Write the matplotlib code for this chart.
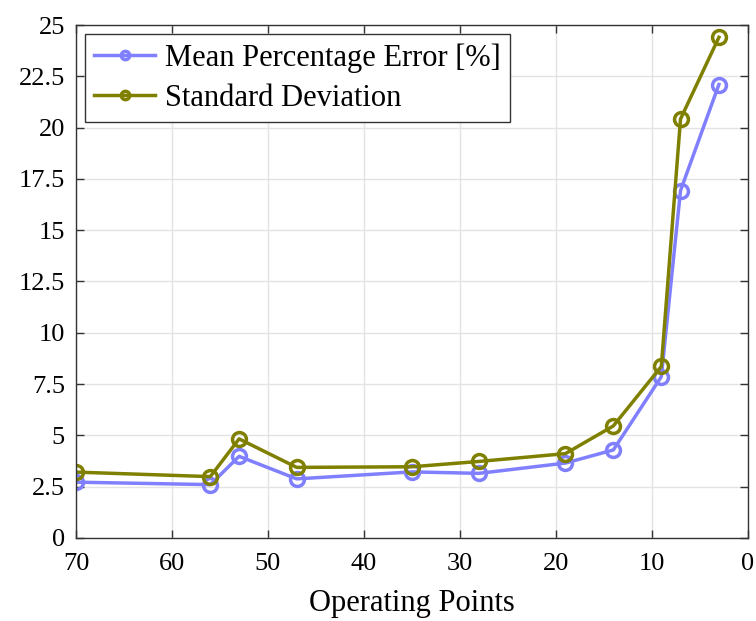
import matplotlib.pyplot as plt
from matplotlib.ticker import FuncFormatter

# operating points and errors
points = [70, 56, 53, 47, 35, 28, 19, 14, 9, 7, 3]
mean_err = [2.72, 2.6, 3.98, 2.88, 3.22, 3.15, 3.65, 4.29, 7.86, 16.93, 22.1]
std_dev = [3.21, 2.99, 4.83, 3.44, 3.47, 3.73, 4.11, 5.46, 8.36, 20.42, 24.4]

plt.rcParams['font.family'] = ['Liberation Serif', 'DejaVu Serif']

fig = plt.figure(figsize=(7.56, 6.21), dpi=100)
ax = fig.add_axes([0.1005, 0.1337, 0.8885, 0.826])

ax.plot(points, mean_err, color='#8080ff', lw=2.5, marker='o', ms=10,
        mfc='none', mew=2.5, label='Mean Percentage Error [%]')
ax.plot(points, std_dev, color='#808000', lw=2.5, marker='o', ms=10,
        mfc='none', mew=2.5, label='Standard Deviation')

ax.set_xlim(70, 0)
ax.set_ylim(0, 25)
ax.set_xticks(range(70, -1, -10))
ax.set_yticks([i * 2.5 for i in range(11)])
ax.yaxis.set_major_formatter(FuncFormatter(lambda v, p: f'{v:g}'))

ax.grid(True, color='#e3e3e3', lw=1)
ax.set_axisbelow(True)
ax.tick_params(direction='in', top=True, right=True, length=6, width=1,
               labelsize=19, color='#333333', pad=8)
ax.tick_params(axis='x', pad=11)
for s in ax.spines.values():
    s.set_color('#333333')
    s.set_linewidth(1)

ax.set_xlabel('Operating Points', fontsize=22, labelpad=10)

leg = ax.legend(loc='upper left', fontsize=22, handlelength=2.0,
                markerscale=0.6, borderaxespad=0.3, fancybox=False,
                handletextpad=0.3, labelspacing=0.35, borderpad=0.3)
leg.get_frame().set_edgecolor('#333333')
leg.get_frame().set_linewidth(1)
leg.get_frame().set_alpha(1)

fig.savefig('out.png', dpi=100)
